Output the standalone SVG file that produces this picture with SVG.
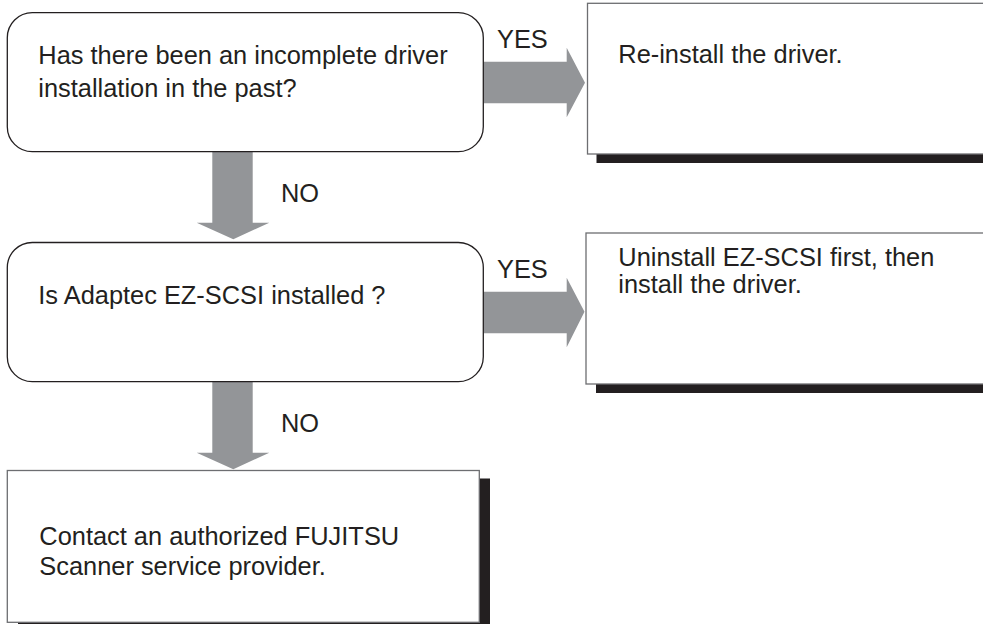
<svg xmlns="http://www.w3.org/2000/svg" width="983" height="624" viewBox="0 0 983 624">
<style>
.q{fill:#ffffff;stroke:#231f20;stroke-width:1.3}
.r{fill:#ffffff;stroke:#6d6e71;stroke-width:1.3}
.sh{fill:#231f20}
.ar{fill:#939598}
text{font-family:"Liberation Sans",Arial,sans-serif;font-size:25.4px;fill:#231f20}
</style>
<rect width="983" height="624" fill="#ffffff"/>
<g id="connectors">
<path class="ar" d="M483.3,61.7 H566.7 V47.7 L585,82.7 L566.7,117.3 V103.3 H483.3 Z"/>
<path class="ar" d="M483.3,291.7 H566.7 V277.7 L584.5,311.7 L566.7,347.3 V333.3 H483.3 Z"/>
<path class="ar" d="M212.3,151.7 H252.7 V222.7 H269.3 L233.3,239.3 L196.7,222.7 H212.3 Z"/>
<path class="ar" d="M212.3,381.7 H252.7 V452.7 H269.3 L233.3,469.3 L196.7,452.7 H212.3 Z"/>
<text x="497" y="48.3">YES</text>
<text x="497" y="278.3">YES</text>
<text x="281" y="201.7">NO</text>
<text x="281" y="431.7">NO</text>
</g>
<g id="q1">
<rect class="q" x="7.3" y="12.7" width="476" height="139" rx="25" ry="25"/>
<text x="38.3" y="64">Has there been an incomplete driver</text>
<text x="38.3" y="96.7">installation in the past?</text>
</g>
<g id="a1">
<rect class="sh" x="596.5" y="12.3" width="400" height="150.7"/>
<rect class="r" x="587.5" y="3.3" width="400" height="150.7"/>
<text x="618.3" y="63">Re-install the driver.</text>
</g>
<g id="q2">
<rect class="q" x="7.3" y="242.5" width="476" height="139.2" rx="25" ry="25"/>
<text x="38.3" y="304">Is Adaptec EZ-SCSI installed ?</text>
</g>
<g id="a2">
<rect class="sh" x="596" y="242" width="400" height="151"/>
<rect class="r" x="586" y="233" width="400" height="151"/>
<text x="618.3" y="266">Uninstall EZ-SCSI first, then</text>
<text x="618.3" y="293">install the driver.</text>
</g>
<g id="end">
<rect class="sh" x="18" y="478.5" width="472" height="152"/>
<rect class="r" x="7.3" y="470.5" width="472" height="151.8"/>
<text x="39.3" y="545">Contact an authorized FUJITSU</text>
<text x="39.3" y="575">Scanner service provider.</text>
</g>
</svg>
